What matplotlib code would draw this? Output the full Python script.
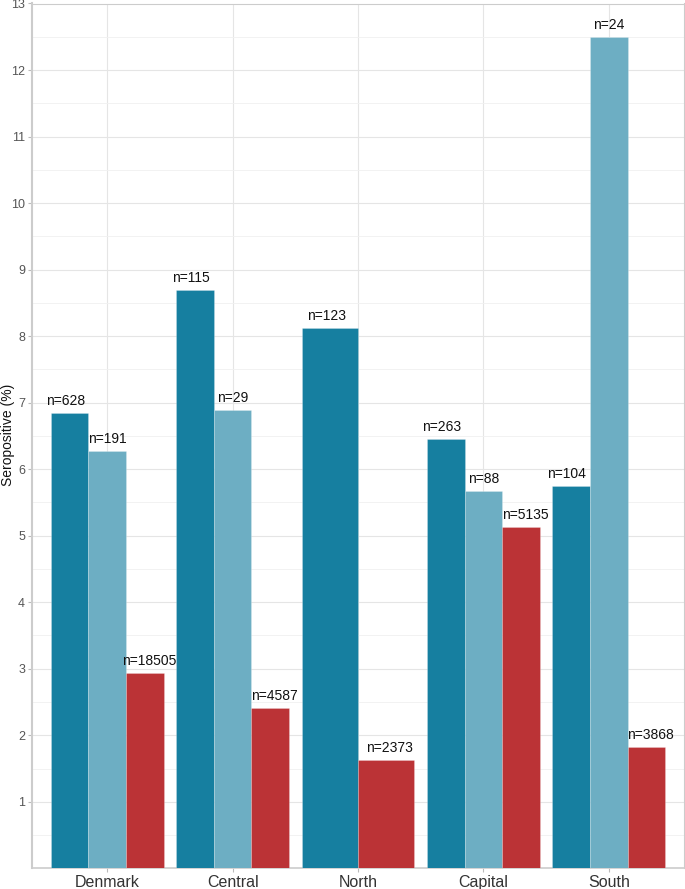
import matplotlib
matplotlib.use("Agg")
import matplotlib.pyplot as plt
from matplotlib.ticker import MultipleLocator

plt.rcParams['font.family'] = ['Liberation Sans', 'DejaVu Sans']

regions = ["Denmark", "Central", "North", "Capital", "South"]
series_names = ["dark", "light", "red"]
colors = ["#167fa0", "#6daec3", "#bb3336"]
# seropositive (%) per series, None = missing
dark_vals = [6.84, 8.69, 8.12, 6.45, 5.75]
light_vals = [6.27, 6.89, None, 5.67, 12.49]
red_vals = [2.93, 2.41, 1.63, 5.13, 1.83]
dark_n = ["628", "115", "123", "263", "104"]
light_n = ["191", "29", None, "88", "24"]
red_n = ["18505", "4587", "2373", "5135", "3868"]

W, H = 685, 889
fig = plt.figure(figsize=(W / 100, H / 100), dpi=100)
ax = fig.add_axes([32 / W, (H - 868.3) / H, 652 / W, (868.3 - 3.5) / H])

all_vals = [dark_vals, light_vals, red_vals]
all_n = [dark_n, light_n, red_n]

for i, reg in enumerate(regions):
    x0 = i + 1
    present = [k for k in range(3) if all_vals[k][i] is not None]
    m = len(present)
    bw = 0.9 / m
    tw = 1.0 / m
    for j, k in enumerate(present):
        v = all_vals[k][i]
        xc = x0 - 0.45 + bw * (j + 0.5)
        ax.bar(xc, v, width=bw, color=colors[k], edgecolor="#ffffff40",
               linewidth=0.6, zorder=3)
        xt = x0 - 0.5 + tw * (j + 0.5)
        ax.annotate("n=" + all_n[k][i], (xt, v), xytext=(0, 5.8),
                    textcoords="offset points", ha="center", va="baseline",
                    fontsize=10, color="#111111", zorder=4)

ax.set_xlim(0.4, 5.6)
ax.set_ylim(0, 13)
ax.set_xticks(range(1, 6))
ax.set_xticklabels(regions, fontsize=11.5, color="#333333")
ax.yaxis.set_major_locator(MultipleLocator(1))
ax.yaxis.set_minor_locator(MultipleLocator(0.5))
ax.set_yticks(range(1, 14))
ax.tick_params(axis="y", labelsize=9, labelcolor="#555555", color="#bbbbbb",
               length=3, width=0.8, pad=2)
ax.tick_params(axis="x", color="#bbbbbb", length=3, width=0.8, pad=2)
ax.tick_params(axis="y", which="minor", length=0)
ax.grid(True, which="major", color="#e5e5e5", linewidth=0.8, zorder=0)
ax.grid(True, which="minor", axis="y", color="#f0f0f0", linewidth=0.6, zorder=0)
for s in ax.spines.values():
    s.set_color("#cccccc")
    s.set_linewidth(0.8)
ax.spines["left"].set_linewidth(1.5)
ax.spines["bottom"].set_linewidth(1.2)
fig.text(8 / W, 1 - 435 / H, "Seropositive (%)", rotation=90, ha="center",
         va="center", fontsize=10, color="#111111")

fig.savefig("out.png", dpi=100)
